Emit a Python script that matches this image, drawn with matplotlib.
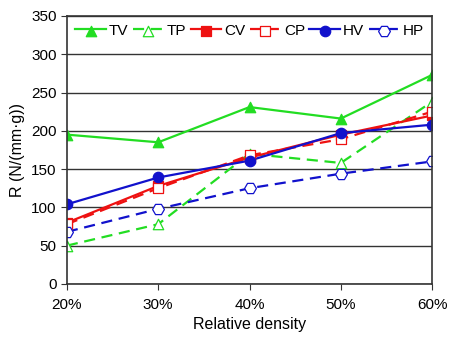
import numpy as np
import matplotlib
matplotlib.use('Agg')
import matplotlib.pyplot as plt

# relative density (%) and R values
density = [20, 30, 40, 50, 60]
tv = [195, 185, 231, 216, 273]
tp = [50, 78, 170, 158, 238]
cv = [80, 128, 165, 195, 220]
cp = [78, 125, 168, 189, 225]
hv = [104, 139, 161, 197, 208]
hp = [68, 98, 125, 144, 160]
names = ['TV', 'TP', 'CV', 'CP', 'HV', 'HP']

green = '#22dd22'
red = '#ee1111'
blue = '#1111cc'

plt.rcParams['font.family'] = ['Liberation Sans', 'DejaVu Sans']

fig = plt.figure(figsize=(4.52, 3.4), dpi=100)
ax = fig.add_axes([0.148, 0.165, 0.808, 0.788])

# (values, colour, linestyle, marker, size, filled)
series = [
    (tv, green, '-', '^', 7.5, True),
    (tp, green, '--', '^', 7.5, False),
    (cv, red, '-', 's', 6.5, True),
    (cp, red, '--', 's', 6.5, False),
    (hv, blue, '-', 'o', 7.5, True),
    (hp, blue, '--', 'H', 8.5, False),
]

handles = []
for (vals, c, ls, mk, ms, filled), name in zip(series, names):
    line, = ax.plot(density, vals, ls, color=c, lw=1.6)
    if ls == '--':
        line.set_dashes((5, 3))
    sc = ax.scatter(density, vals, marker=mk, s=ms ** 2, zorder=3,
                    facecolor=c if filled else 'white', edgecolor=c,
                    linewidths=0.9)
    handles.append((line, sc))

ax.set_xlim(20, 60)
ax.set_ylim(0, 350)
ax.set_xticks(density)
ax.set_xticklabels([f'{d}%' for d in density])
ax.set_yticks(np.arange(0, 351, 50))
ax.yaxis.grid(True, color='#333333', lw=1.0)
ax.set_axisbelow(True)
ax.tick_params(labelsize=11, direction='out', length=4, color='#333333')
ax.tick_params(axis='x', pad=6)
for s in ax.spines.values():
    s.set_color('#333333')
    s.set_linewidth(1.2)
    s.set_zorder(4)

ax.set_xlabel('Relative density', fontsize=11.5)
ax.set_ylabel('R (N/(mm·g))', fontsize=11.5)

leg = ax.legend(handles, names, loc='upper center', ncol=6, frameon=True,
                fontsize=11, handlelength=2.0, handletextpad=0.2,
                columnspacing=0.3, borderaxespad=0.2, borderpad=0.3,
                fancybox=False, scatterpoints=1)
leg.get_frame().set_edgecolor('white')
leg.get_frame().set_alpha(1)
leg.set_zorder(5)

fig.savefig('out.png', dpi=100)
